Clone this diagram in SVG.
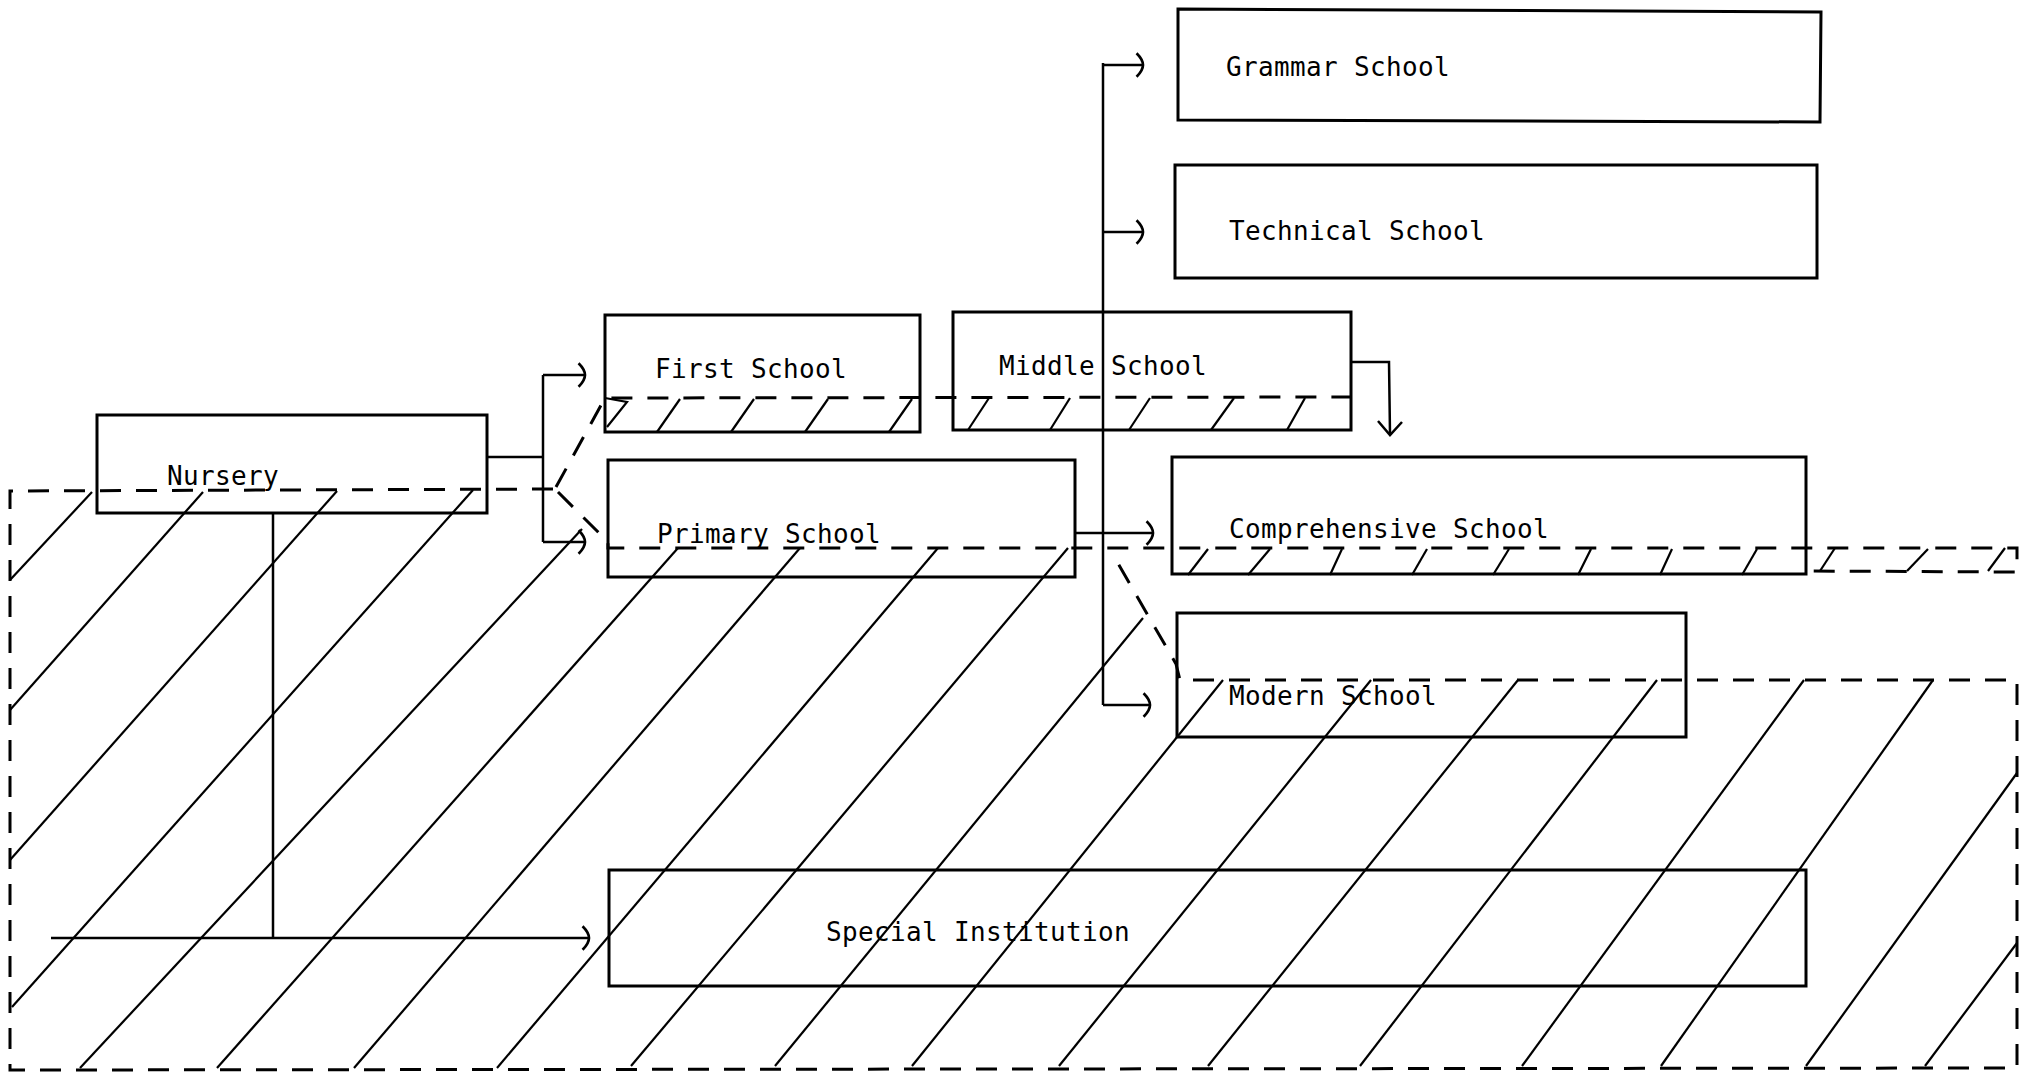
<svg xmlns="http://www.w3.org/2000/svg" width="2036" height="1074" viewBox="0 0 2036 1074">
<style>
.box{fill:none;stroke:#000;stroke-width:3}
.lbl{font-family:"DejaVu Sans Mono","Liberation Mono",monospace;font-size:26px;letter-spacing:0.35px;fill:#000}
.con{fill:none;stroke:#000;stroke-width:2.5}
.dash{fill:none;stroke:#000;stroke-width:3;stroke-dasharray:21 15}
.hat{fill:none;stroke:#000;stroke-width:2.2}
</style>
<defs>
<marker id="ah" markerUnits="userSpaceOnUse" markerWidth="20" markerHeight="30" viewBox="-10 -14 14 28" refX="0" refY="0" orient="auto">
<path d="M-6,-11 C-2,-7 0,-3 0,0 C0,3 -2,7 -6,11" fill="none" stroke="#000" stroke-width="2.5"/>
</marker>
</defs>
<rect width="2036" height="1074" fill="#fff"/>

<g id="shading">
<path class="dash" d="M553,489 L10,491 L10,1070 L2017,1068 L2017,680 L1180,680 L1176,664 L1112,553"/>
<path class="dash" d="M556,487 L605,398 L1351,397"/>
<path class="dash" d="M558,492 L608,542 L608,548 L2017,548 L2017,572 L1808,571"/>
<g class="hat">
<line x1="10" y1="580" x2="92" y2="492"/>
<line x1="10" y1="710" x2="203" y2="492"/>
<line x1="10" y1="860" x2="337" y2="491"/>
<line x1="12" y1="1007" x2="473" y2="490"/>
<line x1="80" y1="1068" x2="582" y2="529"/>
<line x1="217" y1="1068" x2="678" y2="548"/>
<line x1="354" y1="1068" x2="800" y2="548"/>
<line x1="497" y1="1068" x2="938" y2="548"/>
<line x1="631" y1="1066" x2="1068" y2="548"/>
<line x1="775" y1="1066" x2="1143" y2="618"/>
<line x1="912" y1="1066" x2="1223" y2="680"/>
<line x1="1059" y1="1066" x2="1371" y2="680"/>
<line x1="1208" y1="1066" x2="1518" y2="680"/>
<line x1="1360" y1="1066" x2="1657" y2="680"/>
<line x1="1522" y1="1066" x2="1804" y2="680"/>
<line x1="1661" y1="1066" x2="1933" y2="680"/>
<line x1="1806" y1="1066" x2="2017" y2="773"/>
<line x1="1925" y1="1066" x2="2017" y2="943"/>
<path d="M605,398 L627,402 L607,427"/>
<line x1="680" y1="399" x2="657" y2="432"/>
<line x1="754" y1="399" x2="731" y2="432"/>
<line x1="828" y1="399" x2="805" y2="432"/>
<line x1="912" y1="399" x2="889" y2="432"/>
<line x1="989" y1="398" x2="968" y2="430"/>
<line x1="1070" y1="398" x2="1050" y2="430"/>
<line x1="1150" y1="398" x2="1129" y2="430"/>
<line x1="1234" y1="398" x2="1211" y2="430"/>
<line x1="1305" y1="398" x2="1287" y2="430"/>
<line x1="1208" y1="549" x2="1188" y2="575"/>
<line x1="1270" y1="549" x2="1248" y2="575"/>
<line x1="1342" y1="549" x2="1330" y2="575"/>
<line x1="1427" y1="549" x2="1412" y2="575"/>
<line x1="1509" y1="549" x2="1493" y2="575"/>
<line x1="1591" y1="549" x2="1578" y2="575"/>
<line x1="1672" y1="549" x2="1660" y2="575"/>
<line x1="1757" y1="549" x2="1742" y2="575"/>
<line x1="1835" y1="548" x2="1820" y2="571"/>
<line x1="1928" y1="549" x2="1907" y2="571"/>
<line x1="2005" y1="548" x2="1988" y2="571"/>
</g>
</g>

<g id="connectors">
<path class="con" d="M487,457 L543,457"/>
<path class="con" d="M543,375 L543,542"/>
<path class="con" d="M543,375 L585,375" marker-end="url(#ah)"/>
<path class="con" d="M543,542 L585,542" marker-end="url(#ah)"/>
<path class="con" d="M273,513 L273,938"/>
<path class="con" d="M51,938 L589,938" marker-end="url(#ah)"/>
<path class="con" d="M1075,533 L1153,533" marker-end="url(#ah)"/>
<path class="con" d="M1103,63 L1103,705"/>
<path class="con" d="M1103,65 L1143,65" marker-end="url(#ah)"/>
<path class="con" d="M1103,232 L1143,232" marker-end="url(#ah)"/>
<path class="con" d="M1103,705 L1150,705" marker-end="url(#ah)"/>
<path class="con" d="M1351,362 L1389,362 L1390,434"/>
<path class="con" d="M1378,421 L1390,435 L1402,422"/>
</g>

<g id="grammar"><path class="box" d="M1178,9 L1821,12 L1820,122 L1178,120 Z"/><text class="lbl" x="1226" y="76">Grammar School</text></g>
<g id="technical"><rect class="box" x="1175" y="165" width="642" height="113"/><text class="lbl" x="1229" y="240">Technical School</text></g>
<g id="first"><rect class="box" x="605" y="315" width="315" height="117"/><text class="lbl" x="655" y="378">First School</text></g>
<g id="middle"><rect class="box" x="953" y="312" width="398" height="118"/><text class="lbl" x="999" y="375">Middle School</text></g>
<g id="nursery"><rect class="box" x="97" y="415" width="390" height="98"/><text class="lbl" x="167" y="485">Nursery</text></g>
<g id="primary"><rect class="box" x="608" y="460" width="467" height="117"/><text class="lbl" x="657" y="543">Primary School</text></g>
<g id="comprehensive"><rect class="box" x="1172" y="457" width="634" height="117"/><text class="lbl" x="1229" y="538">Comprehensive School</text></g>
<g id="modern"><rect class="box" x="1177" y="613" width="509" height="124"/><text class="lbl" x="1229" y="705">Modern School</text></g>
<g id="special"><rect class="box" x="609" y="870" width="1197" height="116"/><text class="lbl" x="826" y="941">Special Institution</text></g>
</svg>
